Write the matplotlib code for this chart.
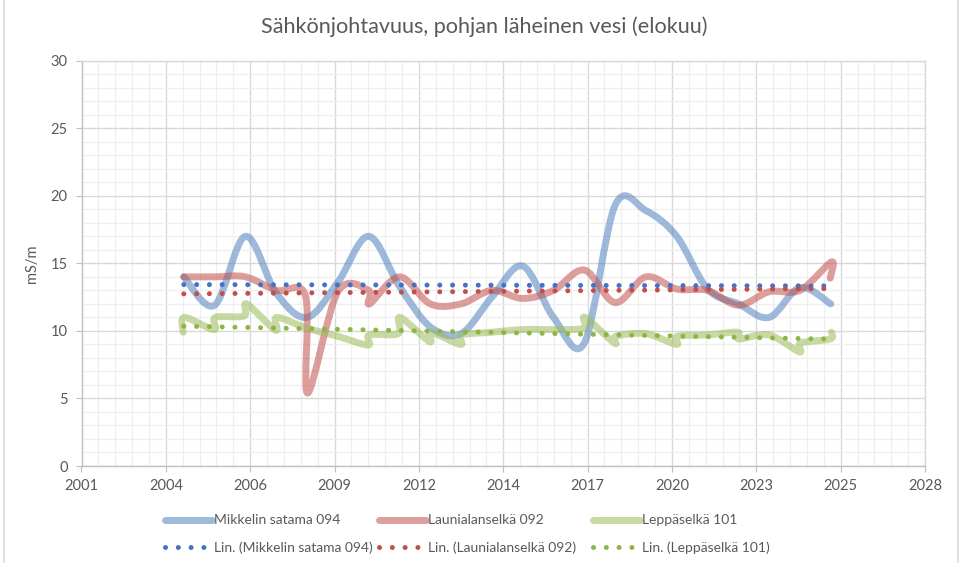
import numpy as np
import matplotlib
matplotlib.use("Agg")
import matplotlib.pyplot as plt
from matplotlib.path import Path
from matplotlib.patches import PathPatch
from matplotlib.lines import Line2D
from matplotlib import font_manager

# ---------------- data ----------------
title = "Sähkönjohtavuus, pohjan läheinen vesi (elokuu)"
ylabel = "mS/m"
x_tick_labels = ["2001", "2004", "2006", "2009", "2012", "2014", "2017", "2020", "2023", "2025", "2028"]

names = ["Mikkelin satama 094", "Launialanselkä 092", "Leppäselkä 101"]

mikkeli_x = [2004.6, 2005.6, 2006.6, 2007.6, 2008.6, 2009.6, 2010.6, 2011.6, 2012.6, 2013.6, 2014.6,
             2015.6, 2016.6, 2017.6, 2018.6, 2019.6, 2020.6, 2021.6, 2022.6, 2023.6, 2024.6, 2025.6]
mikkeli_y = [14.0, 11.9, 17.0, 12.8, 11.0, 13.6, 17.0, 13.3, 10.3, 9.8, 12.5,
             14.8, 11.0, 9.1, 19.3, 18.9, 17.0, 13.1, 12.0, 11.0, 13.2, 12.0]

launiala_x = [2004.6, 2005.6, 2006.6, 2007.6, 2008.55, 2008.62, 2009.6, 2010.6, 2010.63, 2011.6,
              2012.6, 2013.6, 2014.6, 2015.6, 2016.6, 2017.6, 2018.6, 2019.6, 2020.6, 2021.6,
              2022.6, 2023.6, 2024.6, 2025.62, 2025.58]
launiala_y = [14.0, 14.0, 14.0, 13.0, 12.6, 5.4, 12.9, 13.0, 12.0, 14.0,
              12.0, 12.0, 13.0, 12.4, 13.0, 14.5, 12.1, 14.0, 13.1, 13.0,
              11.9, 12.9, 13.0, 15.1, 13.9]

leppa_x = [2004.58, 2004.62, 2005.58, 2005.62, 2006.55, 2006.64, 2007.58, 2007.62, 2008.6, 2009.6,
           2010.58, 2010.62, 2011.56, 2011.62, 2012.58, 2012.62, 2013.58, 2013.62, 2014.6, 2015.6,
           2016.6, 2017.58, 2017.62, 2018.58, 2018.62, 2019.6, 2020.58, 2020.62, 2021.6, 2022.58,
           2022.62, 2023.6, 2024.58, 2024.62, 2025.58, 2025.62]
leppa_y = [9.9, 11.0, 10.1, 11.0, 11.1, 12.0, 10.05, 11.0, 10.2, 9.6,
           8.95, 9.7, 9.8, 11.0, 9.2, 9.9, 9.0, 9.7, 9.9, 10.1,
           10.1, 10.2, 11.0, 9.1, 9.6, 9.8, 9.0, 9.6, 9.7, 9.9,
           9.4, 9.7, 8.45, 9.1, 9.4, 9.9]

# linear trend lines (end points)
trend_x = [2004.6, 2025.6]
mikkeli_trend = [13.43, 13.33]
launiala_trend = [12.74, 13.13]
leppa_trend = [10.35, 9.39]

# ---------------- style ----------------
avail = {f.name for f in font_manager.fontManager.ttflist}
FONT = "Lato" if "Lato" in avail else "DejaVu Sans"
plt.rcParams["font.family"] = [FONT, "DejaVu Sans"]
TXT = "#595959"

line_cols = ["#4F81BD", "#C0504D", "#9BBB59"]
trend_cols = ["#4472C4", "#C0504D", "#8DB646"]
LINE_ALPHA = 0.55
LW = 5.0

W, H = 969, 563
fig = plt.figure(figsize=(W / 100, H / 100), dpi=100)
L, R, T, B = 81.5, 925.0, 60.7, 466.0
ax = fig.add_axes([L / W, 1 - B / H, (R - L) / W, (B - T) / H])

x0 = 2001.28
step = 1000 / 365.25
ax.set_xlim(x0, x0 + 10 * step)
ax.set_ylim(0, 30)
ax.set_xticks([x0 + k * step for k in range(11)])
ax.set_xticklabels(x_tick_labels)
ax.set_xticks([x0 + k * step / 5 for k in range(51)], minor=True)
ax.set_yticks(range(0, 31, 5))
ax.set_yticks(range(0, 31, 1), minor=True)

ax.grid(which="major", color="#D9D9D9", lw=1.0)
ax.grid(which="minor", color="#EFEFEF", lw=0.9)
ax.set_axisbelow(True)
for s in ["left", "bottom"]:
    ax.spines[s].set_color("#BFBFBF")
    ax.spines[s].set_linewidth(1.0)
for s in ["top", "right"]:
    ax.spines[s].set_color("#D9D9D9")
    ax.spines[s].set_linewidth(1.0)
ax.tick_params(which="major", length=4, color="#BFBFBF", labelcolor=TXT, labelsize=10.5)
ax.tick_params(which="minor", length=0)
ax.tick_params(axis="x", pad=5)
ax.tick_params(axis="y", pad=6)

ax.set_ylabel(ylabel, color=TXT, fontsize=10.5, labelpad=8)
fig.text(0.5, 1 - 27 / H, title, ha="center", va="center", color=TXT, fontsize=15.6)


def smooth_path(xs, ys):
    pts = np.column_stack([xs, ys]).astype(float)
    n = len(pts)
    verts = [pts[0]]
    codes = [Path.MOVETO]
    for i in range(n - 1):
        p0 = pts[i - 1] if i > 0 else pts[i]
        p1 = pts[i]
        p2 = pts[i + 1]
        p3 = pts[i + 2] if i + 2 < n else pts[i + 1]
        c1 = p1 + (p2 - p0) / 6.0
        c2 = p2 - (p3 - p1) / 6.0
        verts += [c1, c2, p2]
        codes += [Path.CURVE4] * 3
    return Path(verts, codes)


series = [(mikkeli_x, mikkeli_y), (launiala_x, launiala_y), (leppa_x, leppa_y)]
for (xs, ys), c in zip(series, line_cols):
    patch = PathPatch(smooth_path(xs, ys), facecolor="none", edgecolor=c, lw=LW,
                      alpha=LINE_ALPHA, capstyle="round", joinstyle="round", zorder=2)
    ax.add_patch(patch)

DOT = (0, (0.01, 2.55))
for tr, c in zip([mikkeli_trend, launiala_trend, leppa_trend], trend_cols):
    ax.plot(trend_x, tr, color=c, lw=3.6, ls=DOT, dash_capstyle="round", zorder=3)

# ---------------- legend ----------------
col_x = [165, 379, 593]
for name, lc, tc, cx in zip(names, line_cols, trend_cols, col_x):
    h1 = Line2D([], [], color=lc, lw=LW, alpha=LINE_ALPHA, solid_capstyle="round")
    h2 = Line2D([], [], color=tc, lw=3.6, ls=DOT, dash_capstyle="round")
    fig.legend([h1, h2], [name, f"Lin. ({name})"], loc="center left",
               bbox_to_anchor=(cx / W, 1 - 534 / H), frameon=False, fontsize=10,
               labelcolor=TXT, handlelength=3.35, handletextpad=0.2,
               labelspacing=1.05, borderpad=0, borderaxespad=0)

# chart area border
fig.add_artist(Line2D([3.5 / W, 3.5 / W], [0, 1], color="#D9D9D9", lw=1.2, transform=fig.transFigure))
fig.add_artist(Line2D([957.5 / W, 957.5 / W], [0, 1], color="#D9D9D9", lw=1.2, transform=fig.transFigure))

fig.savefig("out.png", dpi=100, facecolor="white")
